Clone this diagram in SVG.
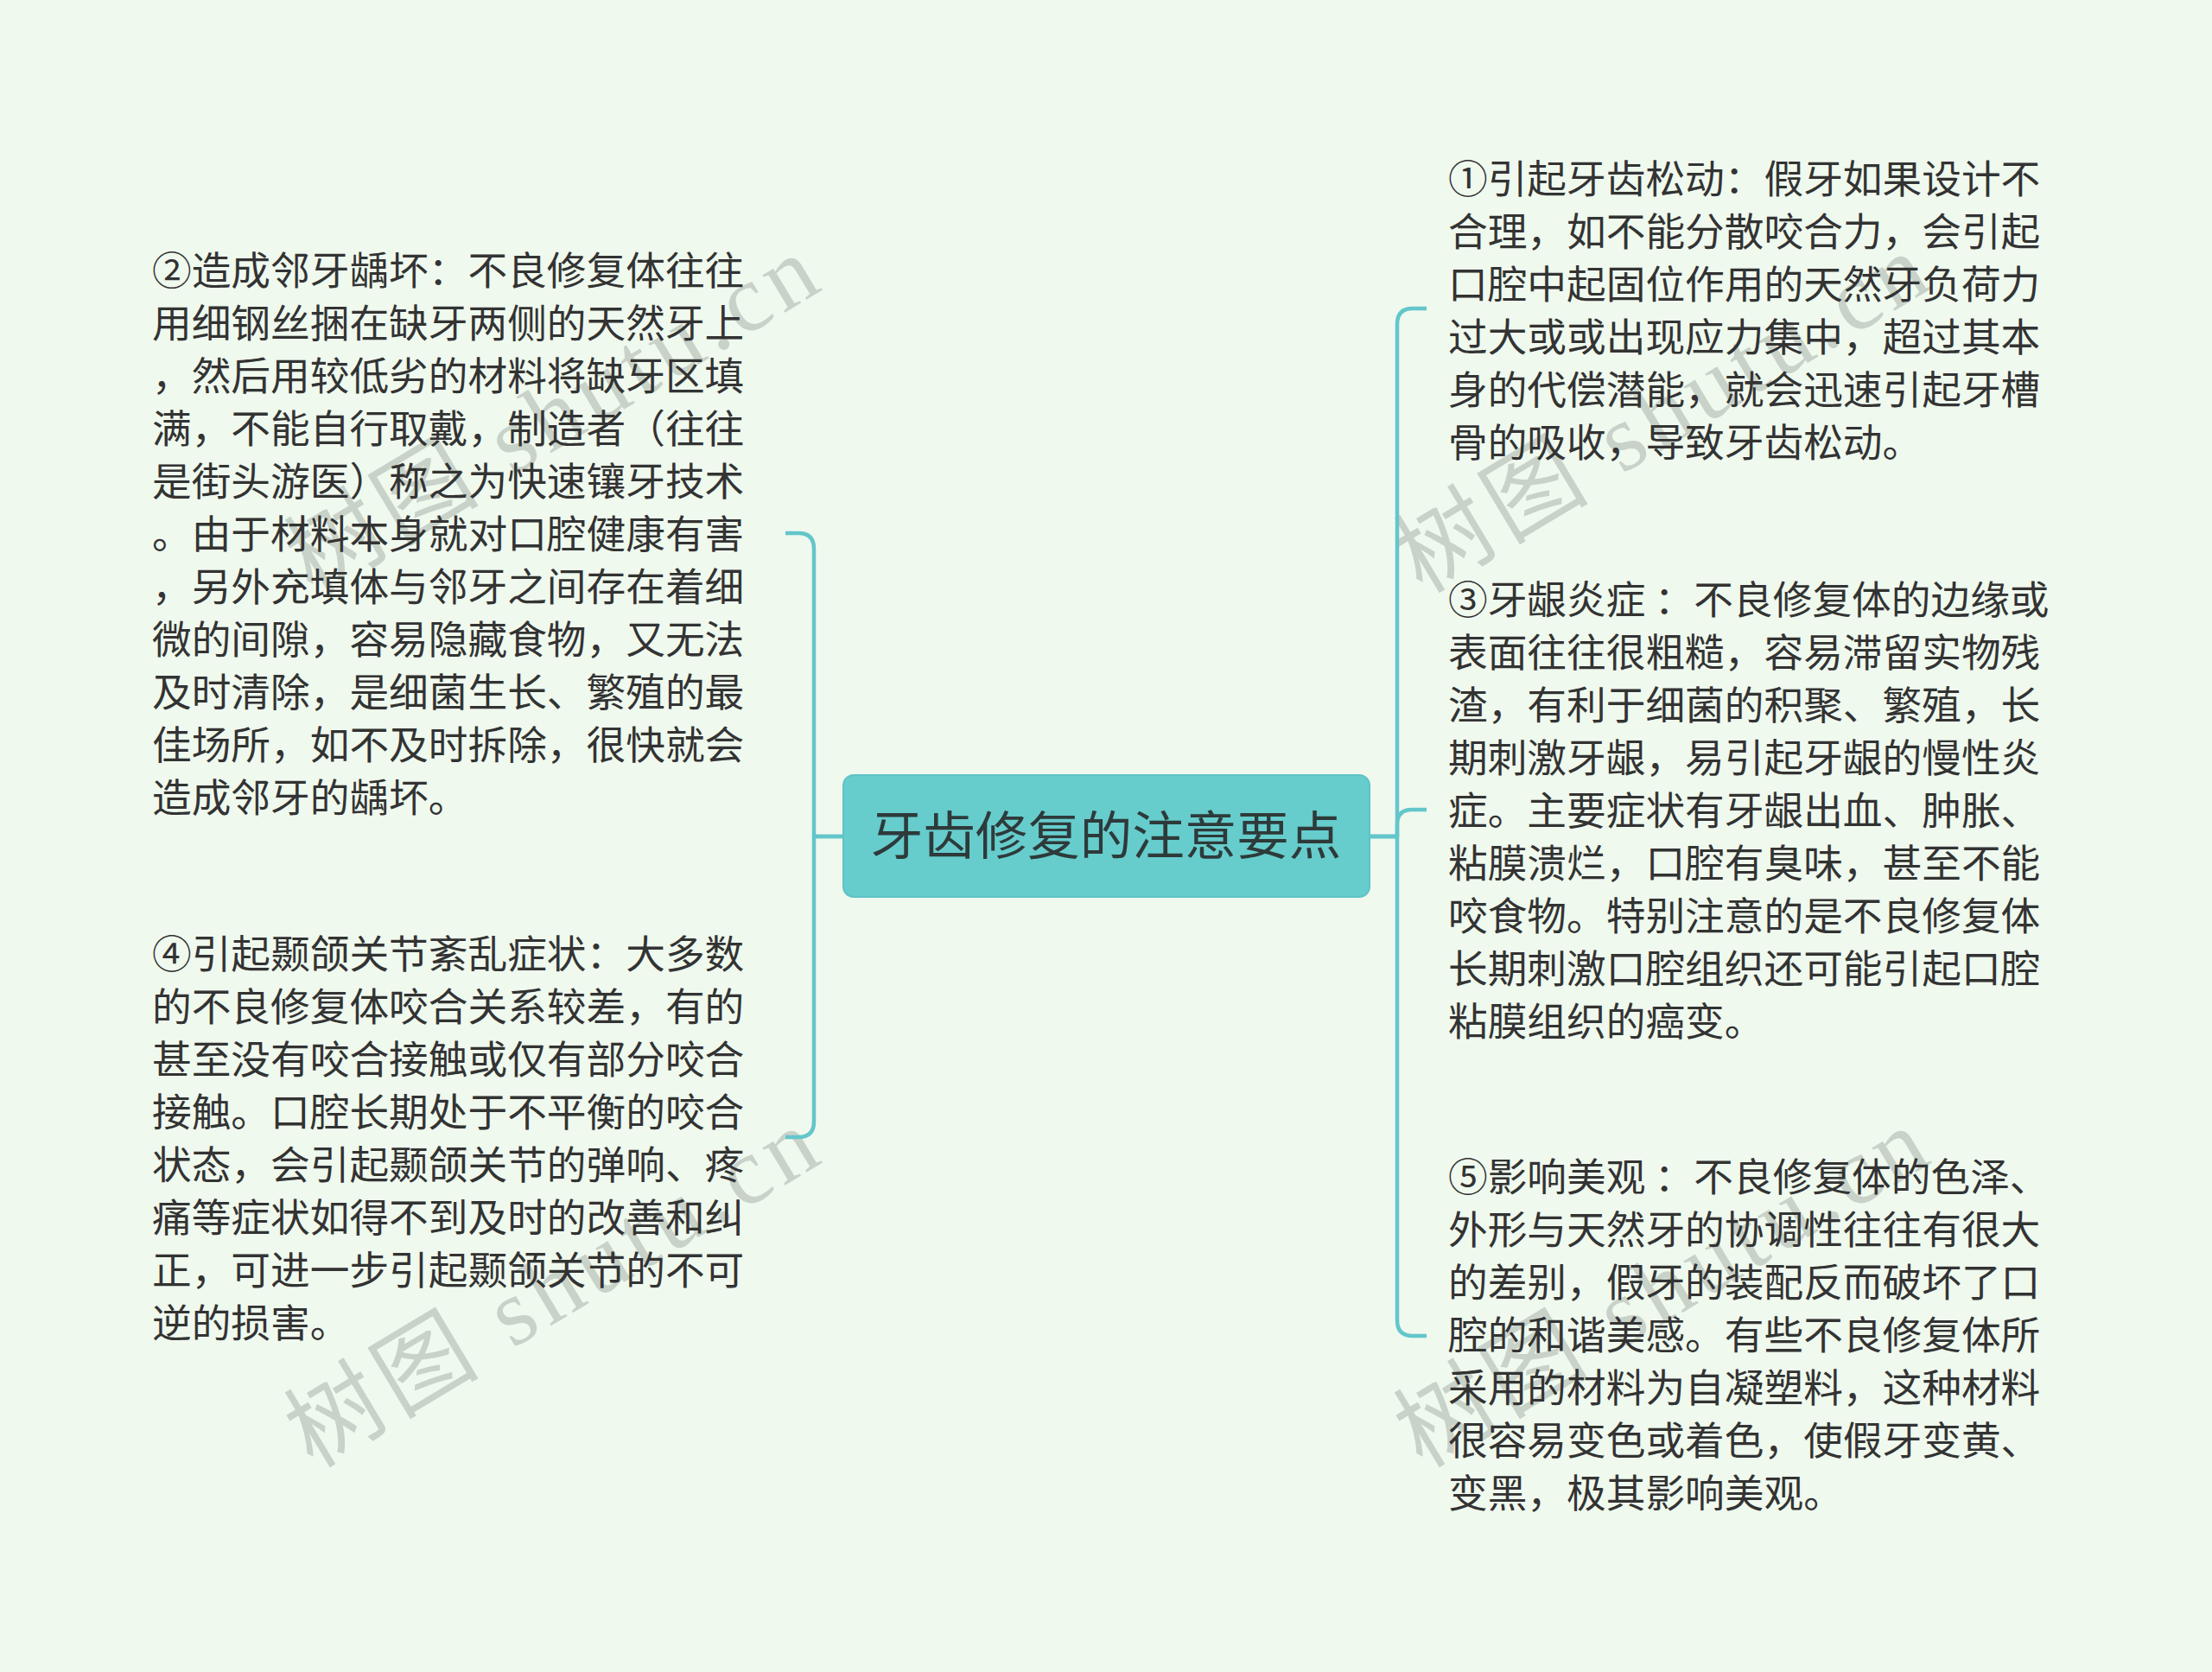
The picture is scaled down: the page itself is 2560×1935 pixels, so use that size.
<svg xmlns="http://www.w3.org/2000/svg" width="2560" height="1935" viewBox="0 0 2560 1935">
<style>
.bg{fill:#EFF9EE}
.wm{font-family:"Liberation Serif","Noto Sans CJK SC",serif;font-size:110px;fill:#C3CCC3;opacity:0.85}
.t{font-family:"Noto Sans CJK SC","Noto Sans",sans-serif;font-size:45.7px;fill:#333333}
.ct{font-family:"Noto Sans CJK SC","Noto Sans",sans-serif;font-size:60.5px;fill:#2E3A3A}
.c{fill:none;stroke:#63C6CB;stroke-width:4.5;stroke-linecap:butt;stroke-linejoin:round}
</style>
<rect class="bg" x="0" y="0" width="2560" height="1935"/>
<g id="watermarks">
<text class="wm" transform="translate(362,690) rotate(-31)" textLength="690" lengthAdjust="spacing">树图 shutu.cn</text>
<text class="wm" transform="translate(362,1700) rotate(-31)" textLength="690" lengthAdjust="spacing">树图 shutu.cn</text>
<text class="wm" transform="translate(1646,688) rotate(-31)" textLength="690" lengthAdjust="spacing">树图 shutu.cn</text>
<text class="wm" transform="translate(1646,1700) rotate(-31)" textLength="690" lengthAdjust="spacing">树图 shutu.cn</text>
</g>
<g id="connectors">
<path class="c" d="M976,968 H942 V635 Q942,617 924,617 H909"/>
<path class="c" d="M976,968 H942 V1298 Q942,1316 924,1316 H909"/>
<path class="c" d="M1585,968 H1617 V375 Q1617,357 1635,357 H1651"/>
<path class="c" d="M1585,968 H1617 V954 Q1617,937 1634,937 H1651"/>
<path class="c" d="M1585,968 H1617 V1528 Q1617,1546 1635,1546 H1651"/>
</g>
<g id="root">
<rect x="976" y="897" width="609" height="141" rx="12" ry="12" fill="#66CCCC" stroke="#5EC3C6" stroke-width="2"/>
<text class="ct" x="1280" y="989" text-anchor="middle">牙齿修复的注意要点</text>
</g>
<g id="node2">
<text class="t" x="176" y="329.5">②造成邻牙龋坏：不良修复体往往</text>
<text class="t" x="176" y="390.5">用细钢丝捆在缺牙两侧的天然牙上</text>
<text class="t" x="176" y="451.5">，然后用较低劣的材料将缺牙区填</text>
<text class="t" x="176" y="512.5">满，不能自行取戴，制造者（往往</text>
<text class="t" x="176" y="573.5">是街头游医）称之为快速镶牙技术</text>
<text class="t" x="176" y="634.5">。由于材料本身就对口腔健康有害</text>
<text class="t" x="176" y="695.5">，另外充填体与邻牙之间存在着细</text>
<text class="t" x="176" y="756.5">微的间隙，容易隐藏食物，又无法</text>
<text class="t" x="176" y="817.5">及时清除，是细菌生长、繁殖的最</text>
<text class="t" x="176" y="878.5">佳场所，如不及时拆除，很快就会</text>
<text class="t" x="176" y="939.5">造成邻牙的龋坏。</text>
</g>
<g id="node4">
<text class="t" x="176" y="1121">④引起颞颌关节紊乱症状：大多数</text>
<text class="t" x="176" y="1182">的不良修复体咬合关系较差，有的</text>
<text class="t" x="176" y="1243">甚至没有咬合接触或仅有部分咬合</text>
<text class="t" x="176" y="1304">接触。口腔长期处于不平衡的咬合</text>
<text class="t" x="176" y="1365">状态，会引起颞颌关节的弹响、疼</text>
<text class="t" x="176" y="1426">痛等症状如得不到及时的改善和纠</text>
<text class="t" x="176" y="1487">正，可进一步引起颞颌关节的不可</text>
<text class="t" x="176" y="1548">逆的损害。</text>
</g>
<g id="node1">
<text class="t" x="1676" y="224">①引起牙齿松动：假牙如果设计不</text>
<text class="t" x="1676" y="285">合理，如不能分散咬合力，会引起</text>
<text class="t" x="1676" y="346">口腔中起固位作用的天然牙负荷力</text>
<text class="t" x="1676" y="407">过大或或出现应力集中，超过其本</text>
<text class="t" x="1676" y="468">身的代偿潜能，就会迅速引起牙槽</text>
<text class="t" x="1676" y="529">骨的吸收，导致牙齿松动。</text>
</g>
<g id="node3">
<text class="t" x="1676" y="711">③牙龈炎症 ：不良修复体的边缘或</text>
<text class="t" x="1676" y="772">表面往往很粗糙，容易滞留实物残</text>
<text class="t" x="1676" y="833">渣，有利于细菌的积聚、繁殖，长</text>
<text class="t" x="1676" y="894">期刺激牙龈，易引起牙龈的慢性炎</text>
<text class="t" x="1676" y="955">症。主要症状有牙龈出血、肿胀、</text>
<text class="t" x="1676" y="1016">粘膜溃烂，口腔有臭味，甚至不能</text>
<text class="t" x="1676" y="1077">咬食物。特别注意的是不良修复体</text>
<text class="t" x="1676" y="1138">长期刺激口腔组织还可能引起口腔</text>
<text class="t" x="1676" y="1199">粘膜组织的癌变。</text>
</g>
<g id="node5">
<text class="t" x="1676" y="1379">⑤影响美观 ：不良修复体的色泽、</text>
<text class="t" x="1676" y="1440">外形与天然牙的协调性往往有很大</text>
<text class="t" x="1676" y="1501">的差别，假牙的装配反而破坏了口</text>
<text class="t" x="1676" y="1562">腔的和谐美感。有些不良修复体所</text>
<text class="t" x="1676" y="1623">采用的材料为自凝塑料，这种材料</text>
<text class="t" x="1676" y="1684">很容易变色或着色，使假牙变黄、</text>
<text class="t" x="1676" y="1745">变黑，极其影响美观。</text>
</g>
</svg>
